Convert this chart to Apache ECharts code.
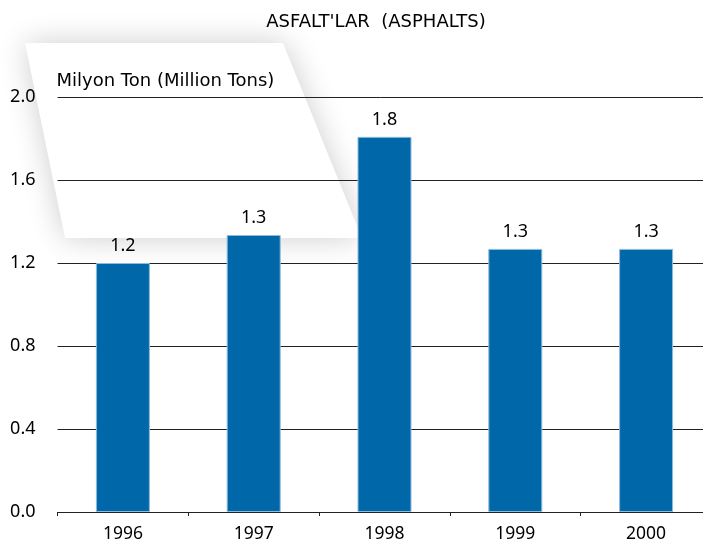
<!DOCTYPE html>
<html>
<head>
<meta charset="utf-8">
<script src="https://cdn.jsdelivr.net/npm/echarts@6/dist/echarts.min.js"></script>
<style>
  html, body { margin: 0; padding: 0; background: #fff; }
  #container { width: 703px; height: 553px; }
</style>
</head>
<body>
<div id="container"></div>
<script>
// data
var years = ['1996', '1997', '1998', '1999', '2000'];
var tonnes = [1.2, 1.335, 1.808, 1.268, 1.268];
var yTicks = [0, 0.4, 0.8, 1.2, 1.6, 2.0];

var dom = document.getElementById('container');
var myChart = echarts.init(dom);
var numFont = 'Noto Sans';
var textFont = 'DejaVu Sans';

var option = {
    backgroundColor: '#fff',
    animation: false,
    title: {
        text: "ASFALT'LAR  (ASPHALTS)",
        left: 371,
        textAlign: 'center',
        top: 8,
        textStyle: { fontFamily: textFont, fontSize: 18, fontWeight: 'normal', color: '#000' }
    },
    // the soft white card behind the top left of the plot
    graphic: [{
        type: 'polygon',
        z: -10,
        shape: { points: [[25, 43], [283, 43], [362, 238], [65, 238]] },
        style: {
            fill: '#fff',
            shadowBlur: 30,
            shadowColor: 'rgba(0,0,0,0.2)',
            shadowOffsetX: 0,
            shadowOffsetY: 0
        }
    }],
    // plot runs past the right edge, as in the source picture
    grid: { left: 57.5, width: 654, top: 97, bottom: 41, containLabel: false, outerBoundsMode: 'none' },
    xAxis: {
        type: 'category',
        data: years,
        axisLine: { lineStyle: { color: '#222', width: 1 } },
        axisTick: { show: true, length: 4, lineStyle: { color: '#222' } },
        axisLabel: { fontFamily: numFont, fontSize: 17.5, color: '#000', margin: 13 }
    },
    yAxis: {
        type: 'value',
        min: yTicks[0],
        max: yTicks[yTicks.length - 1],
        interval: 0.4,
        name: 'Milyon Ton (Million Tons)',
        nameLocation: 'end',
        nameGap: 7,
        nameTextStyle: { fontFamily: textFont, fontSize: 18, color: '#000', align: 'left', padding: [0, 0, 0, -1] },
        axisLine: { show: false },
        axisTick: { show: false },
        axisLabel: {
            fontFamily: numFont, fontSize: 18, color: '#000', margin: 22,
            formatter: function (v) { return v.toFixed(1); }
        },
        splitLine: { lineStyle: { color: '#222', width: 1 } }
    },
    series: [{
        type: 'bar',
        data: tonnes,
        barWidth: 54,
        itemStyle: { color: '#0068a9', borderColor: '#8fbbdc', borderWidth: 1 },
        label: {
            show: true,
            position: 'top',
            distance: 8,
            fontFamily: numFont,
            fontSize: 18,
            color: '#000',
            formatter: function (p) { return p.value.toFixed(1); }
        }
    }]
};

myChart.setOption(option);
</script>
</body>
</html>
